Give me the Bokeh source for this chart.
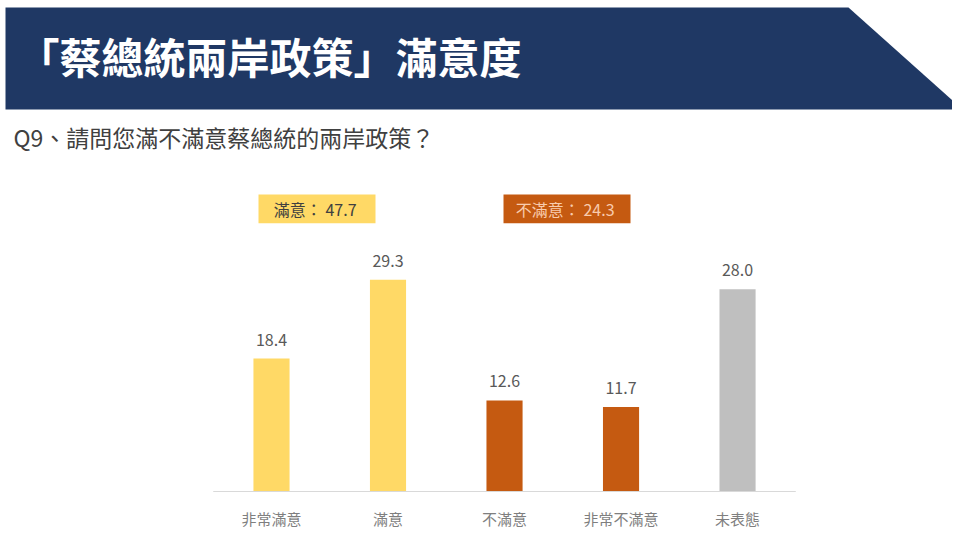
from bokeh.plotting import figure
from bokeh.models import Range1d, ColumnDataSource, LabelSet, Label, FixedTicker
from bokeh.core.properties import value
from bokeh.embed import file_html
from bokeh.resources import INLINE

# ---- data ----
title_text = "「蔡總統兩岸政策」滿意度"
question = "Q9、請問您滿不滿意蔡總統的兩岸政策？"
categories = ["非常滿意", "滿意", "不滿意", "非常不滿意", "未表態"]
values = [18.4, 29.3, 12.6, 11.7, 28.0]
bar_colors = ["#FFD966", "#FFD966", "#C55A11", "#C55A11", "#BFBFBF"]
group_names = ["滿意", "不滿意"]
group_totals = [47.7, 24.3]

FONT = "Noto Sans CJK TC"
W, H = 952, 531

# category index -> x through a linear scale; value -> y through a linear scale
idx = list(range(len(categories)))
p = figure(width=W, height=H, x_range=Range1d(-2.326, 5.845), y_range=Range1d(-0.274, 67.95),
           y_axis_location=None, toolbar_location=None, output_backend="svg",
           min_border_left=0, min_border_right=0, min_border_top=0, min_border_bottom=33,
           outline_line_color=None)
p.xgrid.visible = False
p.ygrid.visible = False

# header layer in page-pixel coordinates
p.extra_x_ranges = {"hx": Range1d(0, 952)}
p.extra_y_ranges = {"hy": Range1d(498, 0)}
p.patch([5, 848, 962, 5], [7, 7, 110, 110], fill_color="#1F3864", line_color=None,
        x_range_name="hx", y_range_name="hy")
p.add_layout(Label(x=17, y=56, text=title_text, text_font=FONT, text_font_size="42px",
                   text_font_style="bold", text_color="white", text_baseline="middle",
                   x_range_name="hx", y_range_name="hy"))
p.add_layout(Label(x=13, y=138, text=question, text_font=FONT, text_font_size="23px",
                   text_color="#404040", text_baseline="middle",
                   x_range_name="hx", y_range_name="hy"))

box_left = [258, 503]
box_right = [375, 630]
box_fill = ["#FFD966", "#C55A11"]
box_text_color = ["#404040", "#F8CBAD"]
p.quad(left=box_left, right=box_right, top=[196, 196], bottom=[225, 225],
       fill_color=box_fill, line_color=None, x_range_name="hx", y_range_name="hy")
for i, (name, tot) in enumerate(zip(group_names, group_totals)):
    p.add_layout(Label(x=(box_left[i] + box_right[i]) / 2, y=210.5,
                       text=f"{name}：  {tot:.1f}", text_font=FONT, text_font_size="16px",
                       text_color=box_text_color[i], text_align="center",
                       text_baseline="middle", x_range_name="hx", y_range_name="hy"))

# ---- bars ----
src = ColumnDataSource(dict(i=idx, cat=categories, val=values, color=bar_colors,
                            label=[f"{v:.1f}" for v in values]))
p.vbar(x="i", top="val", width=0.31, fill_color="color", line_color=None, source=src)
p.add_layout(LabelSet(x="i", y="val", text="label", source=src, text_align="center",
                      text_baseline="middle", y_offset=19, text_font=value(FONT),
                      text_font_size=value("16px"), text_color=value("#595959")))
# baseline
p.segment(x0=[idx[0] - 0.5], y0=[0], x1=[idx[-1] + 0.5], y1=[0],
          line_color="#D9D9D9", line_width=1)

xa = p.xaxis[0]
xa.ticker = FixedTicker(ticks=idx)
xa.major_label_overrides = {i: c for i, c in zip(idx, categories)}
xa.axis_line_color = None
xa.major_tick_line_color = None
xa.minor_tick_line_color = None
xa.major_tick_out = 0
xa.major_tick_in = 0
xa.minor_tick_out = 0
xa.major_label_standoff = 14
xa.major_label_text_font = FONT
xa.major_label_text_font_size = "15px"
xa.major_label_text_color = "#7F7F7F"

open("out.html", "w").write(file_html(p, INLINE))
